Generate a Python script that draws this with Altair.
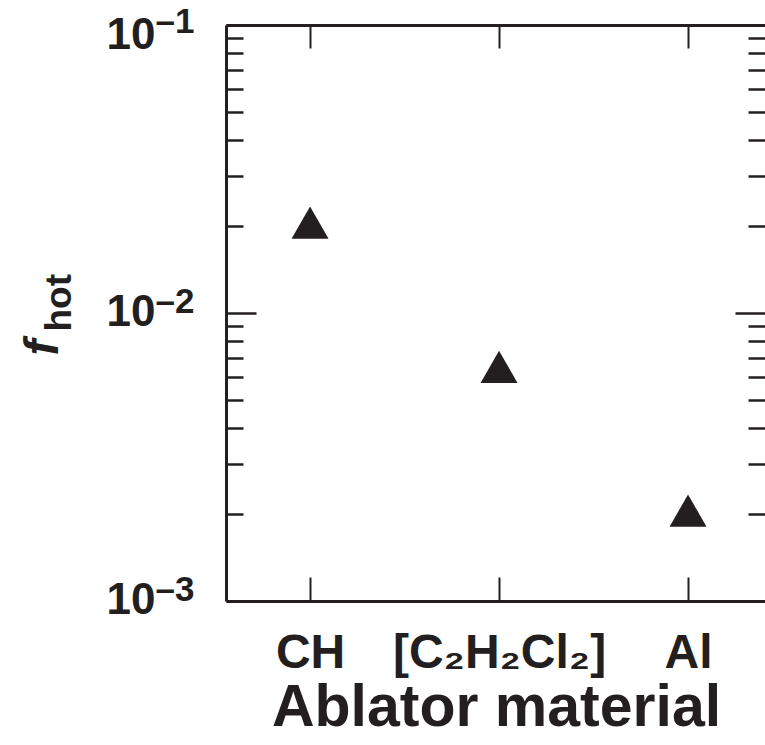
import altair as alt
import pandas as pd

# ---- data ----
materials = ["CH", "[C₂H₂Cl₂]", "Al"]
f_hot = [0.0206, 0.0065, 0.00206]

major_ticks = [0.001, 0.01, 0.1]
minor_ticks = [0.002, 0.003, 0.004, 0.005, 0.006, 0.007, 0.008, 0.009,
               0.02, 0.03, 0.04, 0.05, 0.06, 0.07, 0.08, 0.09]
exp_labels = ["–3", "–2", "–1"]

df = pd.DataFrame({"material": materials, "f_hot": f_hot})

W, H = 539, 576
INK = "#231f20"
FONT = "Liberation Sans"

xscale = alt.Scale(type="point", domain=materials, padding=0.426, align=0.522)
yscale = alt.Scale(type="log", domain=[major_ticks[0], major_ticks[-1]], nice=False)

exp_expr = "[" + ",".join("'%s'" % s for s in exp_labels) + "][indexof([" + \
    ",".join(repr(v) for v in major_ticks) + "], datum.value)]"


def X(axis):
    return alt.X("material:N", scale=xscale, axis=axis)


def Y(axis):
    return alt.Y("f_hot:Q", scale=yscale, axis=axis)


def tick_axis(orient, values, size, width):
    return alt.Axis(orient=orient, values=values, offset=-size, tickSize=size,
                    tickWidth=width, tickColor=INK, domain=False, labels=False,
                    title=None, grid=False)


def base_axis(values, offset, **kw):
    return alt.Axis(orient="left", values=values, labelExpr="'10'", ticks=False,
                    grid=False, labelFont=FONT, labelFontSize=44, labelFontWeight="bold",
                    labelColor=INK, labelAlign="right", labelBaseline="alphabetic",
                    labelPadding=71, labelOffset=offset, labelFlush=False,
                    labelOverlap=False, labelBound=False, **kw)


def sup_axis(values, offset, **kw):
    return alt.Axis(orient="left", values=values, labelExpr=exp_expr, ticks=False,
                    domain=False, grid=False, labelFont=FONT, labelFontSize=35,
                    labelFontWeight="bold", labelColor=INK, labelAlign="left",
                    labelBaseline="alphabetic", labelPadding=71, labelOffset=offset,
                    labelFlush=False, labelOverlap=False, labelBound=False, **kw)


def ghost():
    return alt.Chart(df).mark_point(opacity=0)


main = alt.Chart(df).mark_point(shape="triangle-up", filled=True, size=1369,
                                color=INK, opacity=1, strokeWidth=0).encode(
    x=X(alt.Axis(orient="bottom", title="Ablator material", domain=True,
                 domainColor=INK, domainWidth=3, ticks=False, grid=False,
                 labelFont=FONT, labelFontSize=48, labelFontWeight="bold",
                 labelColor=INK, labelPadding=66, labelBaseline="alphabetic",
                 labelAngle=0, labelOverlap=False, labelBound=False, labelLimit=0,
                 titleFont=FONT, titleFontSize=59, titleFontWeight="bold",
                 titleColor=INK, titleX=270, titleY=124, titleAlign="center",
                 titleBaseline="alphabetic", titleLimit=0)),
    y=Y(base_axis(major_ticks[:2], 12, domain=True, domainColor=INK, domainWidth=3,
                  title="f", titleFont=FONT, titleFontSize=48, titleFontWeight="bold",
                  titleFontStyle="italic", titleColor=INK, titleAngle=270,
                  titleAlign="left", titleBaseline="alphabetic",
                  titleX=-169, titleY=330)),
)

l2 = ghost().encode(
    x=X(tick_axis("bottom", materials, 24, 2)),
    y=Y(sup_axis(major_ticks[:2], -1, title="hot", titleFont=FONT, titleFontSize=37,
                 titleFontWeight="bold", titleColor=INK, titleAngle=270,
                 titleAlign="left", titleBaseline="alphabetic",
                 titleX=-156, titleY=306)),
)
l3 = ghost().encode(x=X(tick_axis("top", materials, 23, 2)),
                    y=Y(tick_axis("left", major_ticks, 30, 2.5)))
l4 = ghost().encode(
    x=X(alt.Axis(orient="top", domain=True, domainColor=INK, domainWidth=3,
                 ticks=False, labels=False, title=None, grid=False)),
    y=Y(tick_axis("left", minor_ticks, 17, 2.5)))
l5 = ghost().encode(x=X(None), y=Y(tick_axis("right", major_ticks, 30, 2.5)))
l6 = ghost().encode(x=X(None), y=Y(tick_axis("right", minor_ticks, 17, 2.5)))
l7 = ghost().encode(x=X(None), y=Y(base_axis(major_ticks[2:], 23, domain=False, title=None)))
l8 = ghost().encode(x=X(None), y=Y(sup_axis(major_ticks[2:], 7, title=None)))

chart = alt.layer(main, l2, l3, l4, l5, l6, l7, l8).resolve_axis(
    x="independent", y="independent"
).properties(
    width=W, height=H,
    autosize=alt.AutoSizeParams(type="none"),
    padding={"left": 226, "top": 25, "right": 0, "bottom": 144},
    background="white",
).configure_view(strokeWidth=0).configure_axis(grid=False)

chart.save("out.html", embed_options={"renderer": "svg", "actions": False})
